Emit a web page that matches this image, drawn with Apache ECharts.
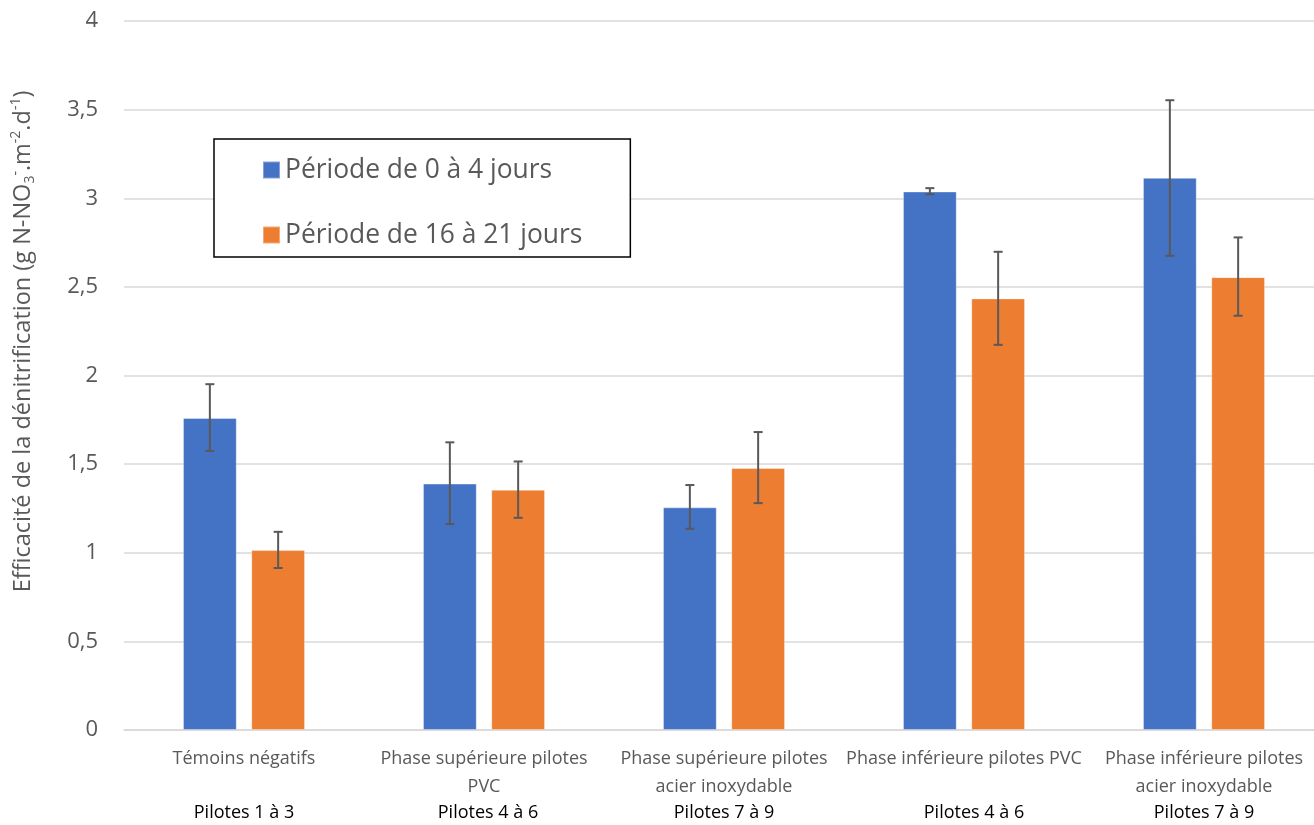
<!DOCTYPE html>
<html>
<head>
<meta charset="utf-8">
<script src="https://cdn.jsdelivr.net/npm/echarts@6/dist/echarts.min.js"></script>
<style>
html,body{margin:0;padding:0;background:#fff;overflow:hidden;}
#chart{width:1314px;height:825px;}
</style>
</head>
<body>
<div id="chart"></div>
<script>
// ---- Data ----
const categories = [
  'Témoins négatifs',
  'Phase supérieure pilotes\nPVC',
  'Phase supérieure pilotes\nacier inoxydable',
  'Phase inférieure pilotes PVC',
  'Phase inférieure pilotes\nacier inoxydable'
];
const pilotes = ['Pilotes 1 à 3', 'Pilotes 4 à 6', 'Pilotes 7 à 9', 'Pilotes 4 à 6', 'Pilotes 7 à 9'];
const seriesNames = ['Période de 0 à 4 jours', 'Période de 16 à 21 jours'];
const valuesP1 = [1.76, 1.39, 1.256, 3.038, 3.115];
const errLowP1 = [1.574, 1.162, 1.135, 3.023, 2.675];
const errHighP1 = [1.951, 1.623, 1.382, 3.057, 3.553];
const valuesP2 = [1.015, 1.355, 1.478, 2.435, 2.555];
const errLowP2 = [0.914, 1.197, 1.280, 2.173, 2.337];
const errHighP2 = [1.118, 1.515, 1.681, 2.698, 2.779];
const yTicks = { min: 0, max: 4, interval: 0.5 };

// ---- Style ----
const BLUE = '#4472C4', ORANGE = '#ED7D31';
const BAR_FRAC = 0.224, GAP_FRAC = 0.27;
const FONT = 'Open Sans';
const pilotShift = [0, 8, 0, 20, 0]; // label left padding (layout only)

function errRender(sign) {
  return function (params, api) {
    const i = api.value(0);
    const lo = api.coord([i, api.value(1)]);
    const hi = api.coord([i, api.value(2)]);
    const bw = api.size([1, 0])[0] * BAR_FRAC;
    const x = lo[0] + sign * bw * (1 + GAP_FRAC) / 2;
    const cap = 4.5;
    const st = { stroke: '#595959', lineWidth: 2 };
    return {
      type: 'group',
      children: [
        { type: 'line', shape: { x1: x, y1: hi[1], x2: x, y2: lo[1] }, style: st },
        { type: 'line', shape: { x1: x - cap, y1: hi[1], x2: x + cap, y2: hi[1] }, style: st },
        { type: 'line', shape: { x1: x - cap, y1: lo[1], x2: x + cap, y2: lo[1] }, style: st }
      ]
    };
  };
}

const chart = echarts.init(document.getElementById('chart'));
chart.setOption({
  animation: false,
  textStyle: { fontFamily: FONT },
  grid: { left: 124, right: -10, top: 21, bottom: 95, containLabel: false, outerBoundsMode: 'none' },
  legend: {
    orient: 'vertical',
    left: 214, top: 139,
    padding: [16, 48, 7, 48],
    itemGap: 35,
    itemWidth: 17, itemHeight: 17,
    icon: 'rect',
    borderColor: '#000', borderWidth: 1.5,
    backgroundColor: '#fff',
    textStyle: { fontFamily: FONT, fontSize: 26.4, color: '#595959', lineHeight: 30 },
    data: seriesNames
  },
  xAxis: [
    {
      type: 'category',
      data: categories,
      axisLine: { lineStyle: { color: '#d9d9d9', width: 1.5 } },
      axisTick: { show: false },
      axisLabel: { interval: 0, color: '#595959', fontSize: 18, lineHeight: 28, margin: 15, fontFamily: FONT }
    },
    {
      type: 'category',
      data: categories.map((c, i) => ({ value: c, textStyle: { padding: [0, 0, 0, pilotShift[i]] } })),
      position: 'bottom',
      axisLine: { show: false },
      axisTick: { show: false },
      axisLabel: {
        interval: 0, color: '#000', fontSize: 18, lineHeight: 20, margin: 73, fontFamily: FONT,
        formatter: function (v, idx) { return pilotes[idx]; }
      }
    }
  ],
  yAxis: {
    type: 'value',
    min: yTicks.min, max: yTicks.max, interval: yTicks.interval,
    axisLine: { show: false },
    axisTick: { show: false },
    splitLine: { lineStyle: { color: '#d9d9d9', width: 1.5 } },
    axisLabel: {
      color: '#595959', fontSize: 22, margin: 26, fontFamily: FONT,
      formatter: function (v) { return String(v).replace('.', ','); }
    },
    name: '{n|Efficacité de la dénitrification (g N-NO}{sb|3}{sp|-}{n|.m}{sp|-2}{n|.d}{sp|-1}{n|)}',
    nameLocation: 'middle',
    nameRotate: 90,
    nameGap: 87,
    nameTextStyle: {
      padding: [0, 0, 0, 68],
      rich: {
        n: { fontSize: 23.5, color: '#595959', fontFamily: FONT, lineHeight: 28, verticalAlign: 'middle' },
        sb: { fontSize: 14, color: '#595959', fontFamily: FONT, lineHeight: 14, verticalAlign: 'bottom' },
        sp: { fontSize: 14, color: '#595959', fontFamily: FONT, lineHeight: 14, verticalAlign: 'top' }
      }
    }
  },
  series: [
    {
      name: seriesNames[0], type: 'bar', data: valuesP1,
      barWidth: (BAR_FRAC * 100) + '%', barGap: (GAP_FRAC * 100) + '%',
      itemStyle: { color: BLUE, borderColor: 'rgba(255,255,255,0.35)', borderWidth: 1 }
    },
    {
      name: seriesNames[1], type: 'bar', data: valuesP2,
      barWidth: (BAR_FRAC * 100) + '%', barGap: (GAP_FRAC * 100) + '%',
      itemStyle: { color: ORANGE, borderColor: 'rgba(255,255,255,0.35)', borderWidth: 1 }
    },
    {
      type: 'custom', renderItem: errRender(-1), z: 5,
      data: valuesP1.map((v, i) => [i, errLowP1[i], errHighP1[i]]),
      encode: { x: 0, y: [1, 2] }
    },
    {
      type: 'custom', renderItem: errRender(1), z: 5,
      data: valuesP2.map((v, i) => [i, errLowP2[i], errHighP2[i]]),
      encode: { x: 0, y: [1, 2] }
    }
  ]
});
</script>
</body>
</html>
